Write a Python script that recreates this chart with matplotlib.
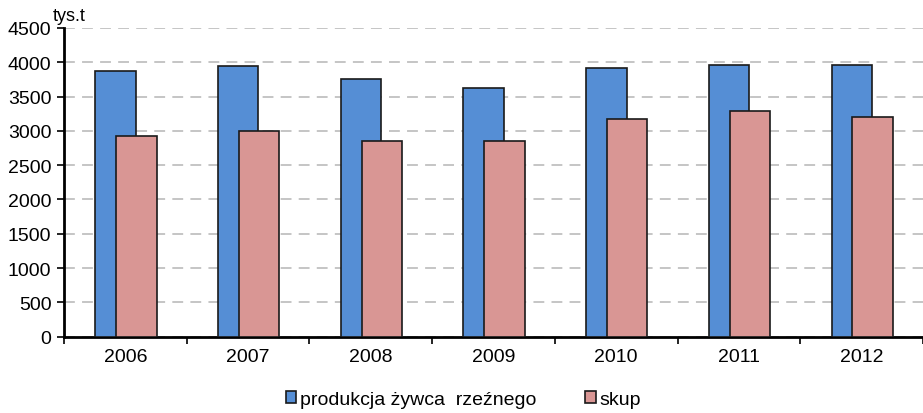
import numpy as np
import matplotlib
matplotlib.use('Agg')
import matplotlib.pyplot as plt

# dane (tys. t)
years = ['2006', '2007', '2008', '2009', '2010', '2011', '2012']
produkcja = [3876, 3939, 3760, 3629, 3916, 3963, 3963]
skup = [2930, 3000, 2849, 2849, 3169, 3285, 3198]
y_ticks = [0, 500, 1000, 1500, 2000, 2500, 3000, 3500, 4000, 4500]

plt.rcParams['font.family'] = ['Liberation Sans', 'DejaVu Sans']

fig = plt.figure(figsize=(9.23, 4.14), dpi=100)
ax = fig.add_axes([0.0693, 0.1843, 0.9307, 0.7457])

x = np.arange(len(years))
ax.bar(x - 0.08, produkcja, width=0.33, color='#558ED5', edgecolor='#1a1a1a',
       linewidth=1.2, label='produkcja żywca  rzeźnego', zorder=3)
ax.bar(x + 0.09, skup, width=0.33, color='#D99694', edgecolor='#1a1a1a',
       linewidth=1.2, label='skup', zorder=4)

ax.set_xlim(-0.5, 6.444)
ax.set_ylim(0, 4500)
ax.set_yticks(y_ticks)
ax.set_yticklabels([str(v) for v in y_ticks], fontsize=14)
ax.set_xticks(x)
ax.set_xticklabels(years, fontsize=14)
ax.tick_params(axis='x', which='major', length=0, pad=8)
ax.set_xticks(np.arange(-0.5, 7, 1), minor=True)
ax.tick_params(axis='x', which='minor', length=5, width=1.2, direction='out')
ax.tick_params(axis='y', length=5, width=1.2, direction='out', pad=4)

ax.yaxis.grid(True, linestyle=(0, (6, 4)), color='#c0c0c0', linewidth=1.3, zorder=0)
ax.set_axisbelow(True)

for side in ['top', 'right']:
    ax.spines[side].set_visible(False)
ax.spines['left'].set_linewidth(2)
ax.spines['bottom'].set_linewidth(2)

fig.text(0.057, 0.94, 'tys.t', fontsize=13, ha='left', va='bottom')

fig.legend(loc='center', bbox_to_anchor=(0.502, 0.033), ncol=2, frameon=False,
           fontsize=14, handlelength=0.55, handleheight=0.55, handletextpad=0.2,
           columnspacing=2.5)

fig.savefig('out.png', dpi=100)
